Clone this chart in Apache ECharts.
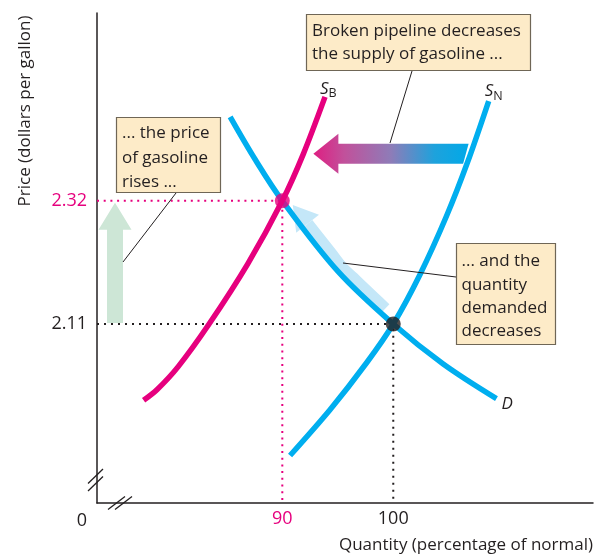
<!DOCTYPE html>
<html>
<head>
<meta charset="utf-8">
<script src="https://cdn.jsdelivr.net/npm/echarts@6/dist/echarts.min.js"></script>
<style>
  html, body { margin: 0; padding: 0; background: #fff; }
  #chart { width: 598px; height: 554px; }
</style>
</head>
<body>
<div id="chart"></div>
<script>
// ---------- data ----------
const supplyBroken = [[77.5, 1.98], [78.7, 1.998], [80.6, 2.037], [83.4, 2.11], [86.9, 2.213], [90.0, 2.32], [91.9, 2.40], [93.85, 2.497]];
const supplyNormal = [[90.7, 1.886], [94.3, 1.964], [97.6, 2.044], [100.0, 2.11], [102.4, 2.194], [104.8, 2.294], [106.7, 2.386], [108.6, 2.49]];
const demand = [[85.3, 2.463], [87.6, 2.389], [90.0, 2.32], [95.0, 2.20], [100.0, 2.11], [104.5, 2.042], [109.3, 1.983]];
const newEquilibrium = [90, 2.32];
const oldEquilibrium = [100, 2.11];
const xTickValues = [90, 100];
const xTickLabels = ['90', '100'];
const yTickValues = [2.11, 2.32];
const yTickLabels = ['2.11', '2.32'];
const originLabel = '0';
const xTitle = 'Quantity (percentage of normal)';
const yTitle = 'Price (dollars per gallon)';
const noteSupply = 'Broken pipeline decreases\nthe supply of gasoline ...';
const notePrice = '... the price\nof gasoline\nrises ...';
const noteQuantity = '... and the\nquantity\ndemanded\ndecreases';

// ---------- styling ----------
const MAGENTA = '#e6007e';
const BLUE = '#00aeef';
const INK = '#231f20';
const FONT = '"Open Sans", "Noto Sans", sans-serif';
const FS = 17;
const TICK_FS = 18;
const X_MIN = 73.3, X_MAX = 118, Y_MIN = 1.805, Y_MAX = 2.64;

const chart = echarts.init(document.getElementById('chart'), null, { renderer: 'canvas' });

function labelFor(values, labels) {
  return v => {
    const i = values.findIndex(t => Math.abs(t - v) < 1e-6);
    return i < 0 ? '' : labels[i];
  };
}

chart.setOption({
  animation: false,
  grid: { left: 97, right: 5, top: 13, bottom: 51 },
  xAxis: {
    type: 'value', min: X_MIN, max: X_MAX,
    splitLine: { show: false },
    axisTick: { show: false },
    axisLine: { lineStyle: { color: INK, width: 1.5 } },
    axisLabel: {
      customValues: xTickValues,
      margin: 7,
      fontFamily: FONT, fontSize: TICK_FS,
      color: v => (Math.abs(v - newEquilibrium[0]) < 1e-6 ? MAGENTA : INK),
      formatter: labelFor(xTickValues, xTickLabels)
    }
  },
  yAxis: {
    type: 'value', min: Y_MIN, max: Y_MAX,
    splitLine: { show: false },
    axisTick: { show: false },
    axisLine: { lineStyle: { color: INK, width: 1.5 } },
    axisLabel: {
      customValues: yTickValues,
      margin: 10,
      fontFamily: FONT, fontSize: TICK_FS,
      color: v => (Math.abs(v - newEquilibrium[1]) < 1e-6 ? MAGENTA : INK),
      formatter: labelFor(yTickValues, yTickLabels)
    }
  },
  series: [
    {
      name: 'guideNew', type: 'line', symbol: 'none', z: 1,
      data: [[X_MIN, newEquilibrium[1]], newEquilibrium, [newEquilibrium[0], Y_MIN]],
      lineStyle: { color: MAGENTA, width: 2, type: [2, 4.7] }
    },
    {
      name: 'guideOld', type: 'line', symbol: 'none', z: 1,
      data: [[X_MIN, oldEquilibrium[1]], oldEquilibrium, [oldEquilibrium[0], Y_MIN]],
      lineStyle: { color: INK, width: 2, type: [2, 5] }
    },
    {
      name: 'SN', type: 'line', symbol: 'none', smooth: 0.3, z: 3,
      data: supplyNormal, lineStyle: { color: BLUE, width: 5.5 }
    },
    {
      name: 'D', type: 'line', symbol: 'none', smooth: 0.35, z: 3,
      data: demand, lineStyle: { color: BLUE, width: 5.5 }
    },
    {
      name: 'SB', type: 'line', symbol: 'none', smooth: 0.3, z: 4,
      data: supplyBroken, lineStyle: { color: MAGENTA, width: 5.5 }
    },
    {
      name: 'eq', type: 'scatter', symbolSize: 15, z: 6,
      data: [
        { value: newEquilibrium, itemStyle: { color: MAGENTA } },
        { value: oldEquilibrium, itemStyle: { color: INK } }
      ]
    }
  ]
});

// ---------- annotations positioned through the chart's own scales ----------
const P = p => chart.convertToPixel({ gridIndex: 0 }, p);
function interp(arr, x) {
  for (let i = 0; i < arr.length - 1; i++) {
    const a = arr[i], b = arr[i + 1];
    if ((x - a[0]) * (x - b[0]) <= 0) {
      const t = (x - a[0]) / (b[0] - a[0]);
      return [x, a[1] + t * (b[1] - a[1])];
    }
  }
  return arr[arr.length - 1];
}

const origin = P([X_MIN, Y_MIN]);
const xRight = P([X_MAX, Y_MIN]);
const pNew = P(newEquilibrium);
const pOld = P(oldEquilibrium);
const g = [];

// green arrow (price rises)
(function () {
  const cx = origin[0] + 18, yB = pOld[1] - 1, yT = pNew[1] + 2;
  const hb = yT + 27;
  g.push({ type: 'polygon', z: 1, shape: { points: [
    [cx - 8, yB], [cx - 8, hb], [cx - 16.5, hb], [cx, yT], [cx + 16.5, hb], [cx + 8, hb], [cx + 8, yB]
  ] }, style: { fill: '#cde6d6' } });
})();

// gradient arrow (supply shift)
(function () {
  const a = P([106.7, 2.40]), tip = P([92.8, 2.40]);
  const y = a[1], x0 = tip[0], xr = a[0];
  const hb = x0 + 25;
  g.push({ type: 'polygon', z: 1, shape: { points: [
    [x0, y], [hb, y - 20], [hb, y - 10], [xr + 1, y - 10], [xr - 4.5, y + 10], [hb, y + 10], [hb, y + 20]
  ] }, style: { fill: new echarts.graphic.LinearGradient(0, 0, 1, 0, [
    { offset: 0, color: '#de1f82' },
    { offset: 0.2, color: '#c1519b' },
    { offset: 0.5, color: '#8e7cb8' },
    { offset: 0.78, color: '#1ea2dc' },
    { offset: 1, color: '#00a9e8' }
  ]) } });
})();

// light-blue arrow along demand curve
(function () {
  const xs = [98.9, 98.0, 97.0, 96.0, 95.0, 94.0, 93.0, 91.9];
  const pts = xs.map(x => P(interp(demand, x))).map(p => [p[0] + 4.2, p[1] - 3.8]);
  g.push({ type: 'polyline', z: 2, shape: { points: pts, smooth: 0.4 },
    style: { stroke: '#c4e7f8', lineWidth: 12, fill: null } });
  const base = pts[pts.length - 1], prev = pts[pts.length - 3];
  let dx = base[0] - prev[0], dy = base[1] - prev[1];
  const L = Math.hypot(dx, dy); dx /= L; dy /= L;
  const tip = [base[0] + dx * 24, base[1] + dy * 24];
  const nx = -dy, ny = dx;
  g.push({ type: 'polygon', z: 2, shape: { points: [
    [base[0] + nx * 14.5, base[1] + ny * 14.5], tip, [base[0] - nx * 14.5, base[1] - ny * 14.5]
  ] }, style: { fill: '#c4e7f8' } });
})();

// axis break marks
function slash(x1, y1, x2, y2) {
  g.push({ type: 'line', z: 5, shape: { x1, y1, x2, y2 }, style: { stroke: INK, lineWidth: 1.3 } });
}
slash(origin[0] - 9, 483.5, origin[0] + 6, 469);
slash(origin[0] - 9, 491, origin[0] + 6, 476.5);
slash(origin[0] + 11, 509.5, origin[0] + 28, 496.5);
slash(origin[0] + 18, 509.5, origin[0] + 35, 496.5);

// curve labels
function curveLabel(x, y, main, sub) {
  g.push({ type: 'text', z: 8, x, y, style: {
    text: sub ? '{s|' + main + '}{b|' + sub + '}' : '{s|' + main + '}',
    rich: {
      s: { fontFamily: FONT, fontSize: 17, fontStyle: 'italic', fill: INK, verticalAlign: 'bottom' },
      b: { fontFamily: FONT, fontSize: 12.5, fill: INK, verticalAlign: 'bottom', padding: [0, 0, -3, 0] }
    },
    verticalAlign: 'middle', align: 'left'
  } });
}
const sbTop = P(supplyBroken[supplyBroken.length - 1]);
const snTop = P(supplyNormal[supplyNormal.length - 1]);
const dEnd = P(demand[demand.length - 1]);
curveLabel(sbTop[0] - 5, sbTop[1] - 8, 'S', 'B');
curveLabel(snTop[0] - 4, snTop[1] - 10, 'S', 'N');
curveLabel(dEnd[0] + 5, dEnd[1] + 6, 'D');

// note boxes
function note(x, y, w, h, text, tx, ty, lh) {
  g.push({ type: 'rect', z: 7, shape: { x, y, width: w, height: h },
    style: { fill: '#fdebc8', stroke: '#6f6656', lineWidth: 1.2 } });
  g.push({ type: 'text', z: 8, style: { x: tx, y: ty, text, fontFamily: FONT, fontSize: FS,
    fill: INK, lineHeight: lh, verticalAlign: 'top', align: 'left' } });
}
note(306.5, 14.5, 224, 56, noteSupply, 312, 20, 23);
note(116.5, 117.5, 104, 75, notePrice, 122, 121, 24.5);
note(456.5, 243.5, 99, 101, noteQuantity, 461.5, 250, 23.3);

// leader lines
function leader(x1, y1, x2, y2) {
  g.push({ type: 'line', z: 6, shape: { x1, y1, x2, y2 }, style: { stroke: INK, lineWidth: 1 } });
}
leader(412, 71, 390, 143);
leader(176, 193, 123, 262);
leader(456, 277, 343, 263);

// axis titles and origin
g.push({ type: 'text', z: 8, x: 25, y: 111, rotation: Math.PI / 2, style: {
  text: yTitle, fontFamily: FONT, fontSize: FS, fill: INK, align: 'center', verticalAlign: 'middle' } });
g.push({ type: 'text', z: 8, style: { x: xRight[0], y: 545, text: xTitle, fontFamily: FONT, fontSize: FS,
  fill: INK, align: 'right', verticalAlign: 'middle' } });
g.push({ type: 'text', z: 8, style: { x: origin[0] - 15, y: 521, text: originLabel, fontFamily: FONT, fontSize: TICK_FS,
  fill: INK, align: 'center', verticalAlign: 'middle' } });

chart.setOption({ graphic: { elements: g } });
</script>
</body>
</html>
